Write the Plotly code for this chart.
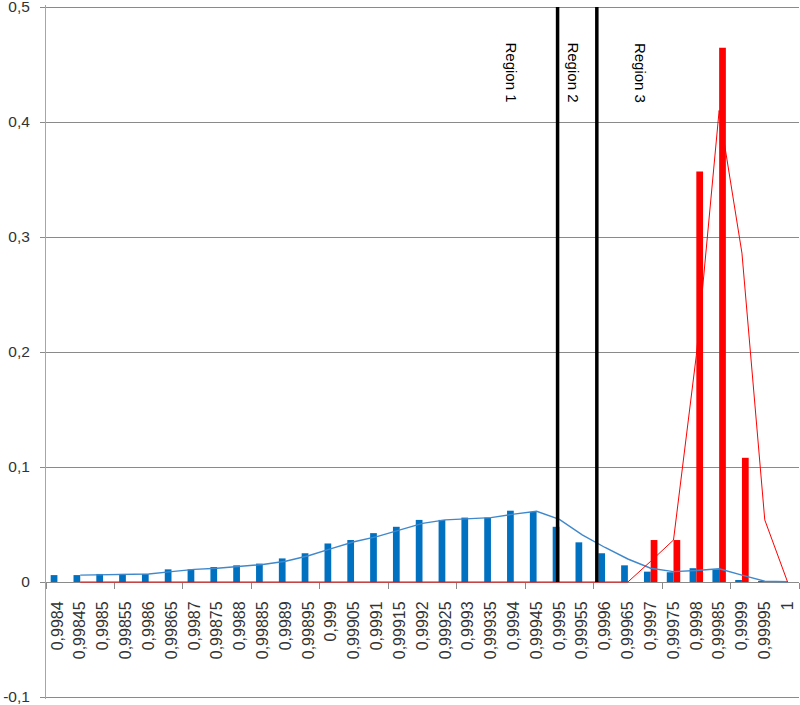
import plotly.graph_objects as go

# ---- data ----
x_vals = [0.9984, 0.99845, 0.9985, 0.99855, 0.9986, 0.99865, 0.9987, 0.99875, 0.9988, 0.99885,
          0.9989, 0.99895, 0.999, 0.99905, 0.9991, 0.99915, 0.9992, 0.99925, 0.9993, 0.99935,
          0.9994, 0.99945, 0.9995, 0.99955, 0.9996, 0.99965, 0.9997, 0.99975, 0.9998, 0.99985,
          0.9999, 0.99995, 1.0]
x_labels = ["0,9984", "0,99845", "0,9985", "0,99855", "0,9986", "0,99865", "0,9987", "0,99875",
            "0,9988", "0,99885", "0,9989", "0,99895", "0,999", "0,99905", "0,9991", "0,99915",
            "0,9992", "0,99925", "0,9993", "0,99935", "0,9994", "0,99945", "0,9995", "0,99955",
            "0,9996", "0,99965", "0,9997", "0,99975", "0,9998", "0,99985", "0,9999", "0,99995", "1"]

blue_vals = [0.006, 0.006, 0.007, 0.007, 0.007, 0.011, 0.011, 0.013, 0.0145, 0.016,
             0.0205, 0.025, 0.0335, 0.0365, 0.0425, 0.048, 0.054, 0.054, 0.056, 0.056,
             0.062, 0.061, 0.048, 0.0345, 0.025, 0.0145, 0.009, 0.0085, 0.012, 0.011,
             0.001, 0.0003, 0.0]
red_vals = [0, 0, 0, 0, 0, 0, 0, 0, 0, 0,
            0, 0, 0, 0, 0, 0, 0, 0, 0, 0,
            0, 0, 0, 0, 0, 0, 0.0365, 0.0365, 0.357, 0.4645,
            0.108, 0, 0]

# trend lines (2-period moving average as drawn), starting at the 2nd category
blue_trend = [0.006, 0.0065, 0.007, 0.007, 0.009, 0.011, 0.012, 0.0138, 0.0152, 0.018,
              0.0228, 0.029, 0.035, 0.0395, 0.045, 0.051, 0.054, 0.055, 0.056, 0.059,
              0.0615, 0.0545, 0.041, 0.03, 0.02, 0.012, 0.009, 0.010, 0.0115, 0.006,
              0.0007, 0.0002]
red_trend = [0, 0, 0, 0, 0, 0, 0, 0, 0, 0,
             0, 0, 0, 0, 0, 0, 0, 0, 0, 0,
             0, 0, 0, 0, 0, 0.018, 0.0365, 0.197, 0.41, 0.286,
             0.054, 0.0]

region_bounds = [0.999496, 0.999582]
region_labels = ["Region 1", "Region 2", "Region 3"]
region_label_x = [0.999394, 0.99953, 0.999678]
region_label_y = 0.443

y_ticks = [-0.1, 0, 0.1, 0.2, 0.3, 0.4, 0.5]
y_ticktext = ["-0,1", "0", "0,1", "0,2", "0,3", "0,4", "0,5"]

FONT = "Liberation Sans"
step = x_vals[1] - x_vals[0]

fig = go.Figure()
fig.add_trace(go.Bar(x=x_vals, y=blue_vals, marker=dict(color="#0070C0", line=dict(width=0)),
                     showlegend=False))
fig.add_trace(go.Bar(x=x_vals, y=red_vals, marker=dict(color="#FF0000", line=dict(width=0)),
                     showlegend=False))
fig.add_trace(go.Scatter(x=x_vals[1:], y=blue_trend, mode="lines",
                         line=dict(color="#3F88CC", width=1.4), showlegend=False))
fig.add_trace(go.Scatter(x=x_vals[1:], y=red_trend, mode="lines",
                         line=dict(color="#FF0000", width=1), showlegend=False))

for b in region_bounds:
    fig.add_shape(type="line", x0=b, x1=b, y0=0, y1=0.5, xref="x", yref="y",
                  line=dict(color="black", width=3.5))

for t, xx in zip(region_labels, region_label_x):
    fig.add_annotation(x=xx, y=region_label_y, text=t, textangle=90, showarrow=False,
                       font=dict(family=FONT, size=15, color="black"))

pad = 0.6 * 2 / 690  # 2 px of headroom so end gridlines are drawn
ymin, ymax = -0.1 - pad, 0.5 + pad
fig.update_layout(
    width=800, height=705,
    margin=dict(l=46, r=1, t=5, b=6, autoexpand=False),
    paper_bgcolor="white", plot_bgcolor="white",
    barmode="group", bargap=0.41, bargroupgap=0,
    font=dict(family=FONT, color="#333333"),
    xaxis=dict(
        type="linear",
        range=[x_vals[0] - step / 2, x_vals[-1] + step / 2],
        anchor="free", position=(0 - ymin) / (ymax - ymin),
        showgrid=False, zeroline=False, automargin=False, layer="below traces",
        showline=True, linecolor="#8a8a8a", linewidth=1,
        tickmode="array", tickvals=x_vals, ticktext=x_labels,
        tickangle=-90, ticks="", ticklabelstandoff=12, ticklabeloverflow="allow",
        tickfont=dict(family=FONT, size=16, color="#333333"),
        minor=dict(tickmode="linear", tick0=x_vals[0] - step / 2, dtick=3 * step,
                   ticks="outside", ticklen=6, tickcolor="#8a8a8a", showgrid=False),
    ),
    yaxis=dict(
        range=[ymin, ymax], automargin=False,
        tickmode="array", tickvals=y_ticks, ticktext=y_ticktext,
        showgrid=True, gridcolor="#8a8a8a", gridwidth=1,
        zeroline=False,
        showline=True, linecolor="#a6a6a6", linewidth=1,
        ticks="outside", ticklen=5, tickcolor="#8a8a8a", ticklabelstandoff=7,
        ticklabeloverflow="allow",
        tickfont=dict(family=FONT, size=15.5, color="#333333"),
    ),
)

fig.write_html("out.html", config={"displayModeBar": False},
               post_script="document.body.style.margin='0px';")
